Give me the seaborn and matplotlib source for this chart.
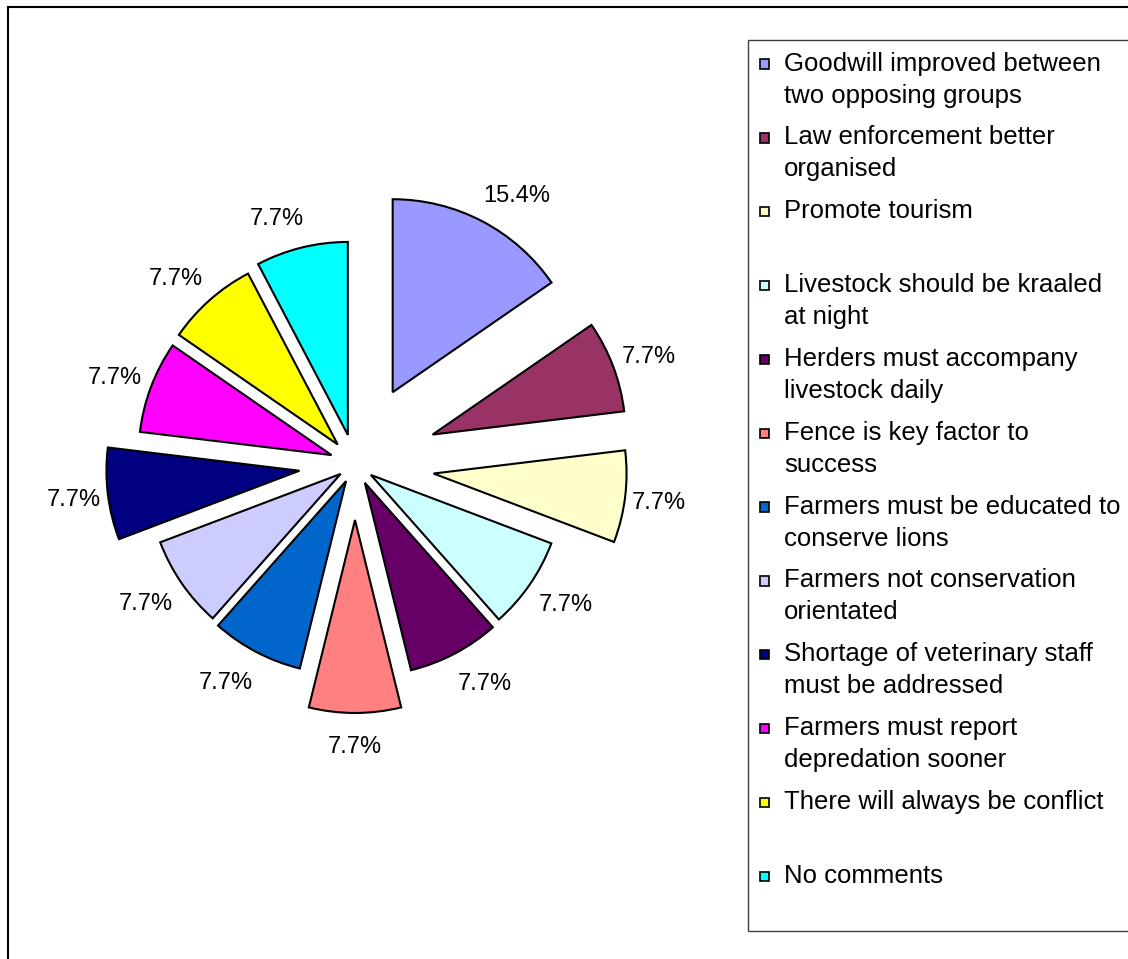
import matplotlib

matplotlib.use("Agg")
import numpy as np
import matplotlib.pyplot as plt
import matplotlib.patches as mpatches
from matplotlib.legend_handler import HandlerPatch
import seaborn as sns

# survey responses (13 in total)
categories = [
    "Goodwill improved between\ntwo opposing groups",
    "Law enforcement better\norganised",
    "Promote tourism\n",
    "Livestock should be kraaled\nat night",
    "Herders must accompany\nlivestock daily",
    "Fence is key factor to\nsuccess",
    "Farmers must be educated to\nconserve lions",
    "Farmers not conservation\norientated",
    "Shortage of veterinary staff\nmust be addressed",
    "Farmers must report\ndepredation sooner",
    "There will always be conflict\n",
    "No comments\n",
]
responses = [2, 1, 1, 1, 1, 1, 1, 1, 1, 1, 1, 1]

slice_colors = [
    "#9999FF", "#993366", "#FFFFCC", "#CCFFFF", "#660066", "#FF8080",
    "#0066CC", "#CCCCFF", "#000080", "#FF00FF", "#FFFF00", "#00FFFF",
]
explode = [0.42, 0.43, 0.41, 0.10, 0.11, 0.29, 0.10, 0.09, 0.29, 0.13, 0.135, 0.155]

W, H = 1128, 959
CX, CY, R = 355, 464, 193  # pie centre / radius in pixels


class FirstLineSquare(HandlerPatch):
    """Small square aligned with the first line of a two-line label."""

    def create_artists(self, legend, orig_handle, xdescent, ydescent,
                       width, height, fontsize, trans):
        side = 0.36 * fontsize
        y0 = -ydescent + height / 2 - side / 2 + 11.5
        box = mpatches.Rectangle(
            (-xdescent, y0), side, side,
            facecolor=orig_handle.get_facecolor(),
            edgecolor="black", linewidth=1.2, transform=trans,
        )
        return [box]


sns.set_theme(style="white")
plt.rcParams["font.family"] = ["Liberation Sans", "DejaVu Sans"]
plt.rcParams["text.color"] = "black"

fig = plt.figure(figsize=(W / 100, H / 100), dpi=100)
fig.patch.set_facecolor("white")

ax = fig.add_axes([0, (H - 2 * CY) / H, 2 * CX / W, 2 * CY / H])
wedges, _, pct_texts = ax.pie(
    responses,
    explode=explode,
    colors=slice_colors,
    startangle=90,
    counterclock=False,
    autopct="%.1f%%",
    pctdistance=1.165,
    wedgeprops=dict(edgecolor="black", linewidth=1.5),
    textprops=dict(fontsize=17, color="black", verticalalignment="center_baseline"),
)
ax.set_xlim(-CX / R, CX / R)
ax.set_ylim(-CY / R, CY / R)
ax.set_aspect("equal")
ax.axis("off")

# Excel-style: labels near the vertical axis slide sideways by part of their width
renderer = fig.canvas.get_renderer()
for w, t in zip(wedges, pct_texts):
    mid = np.deg2rad((w.theta1 + w.theta2) / 2)
    side = np.sign(np.round(np.cos(mid), 6))
    half_w = t.get_window_extent(renderer).width / 2 / R
    x, y = t.get_position()
    t.set_position((x + side * 0.65 * half_w * abs(np.sin(mid)), y))

leg = fig.legend(
    wedges,
    categories,
    loc="upper left",
    bbox_to_anchor=(748 / W, 1 - 40 / H, 420 / W, 0),
    bbox_transform=fig.transFigure,
    mode="expand",
    fontsize=18.5,
    labelcolor="black",
    frameon=True,
    fancybox=False,
    framealpha=1,
    edgecolor="#404040",
    borderpad=0.45,
    borderaxespad=0,
    handlelength=0.36,
    handleheight=0.7,
    handletextpad=0.6,
    labelspacing=0.695,
    handler_map={mpatches.Wedge: FirstLineSquare()},
)
leg.get_frame().set_linewidth(1.0)
for t in leg.get_texts():
    t.set_linespacing(1.42)

# outer chart-area border (runs off the right and bottom edges)
fig.patches.append(
    mpatches.Rectangle(
        (8 / W, -0.05), 1.1, 1 - 7 / H + 0.05,
        transform=fig.transFigure, fill=False,
        edgecolor="black", linewidth=1.5,
    )
)

fig.savefig("out.png", dpi=100)
